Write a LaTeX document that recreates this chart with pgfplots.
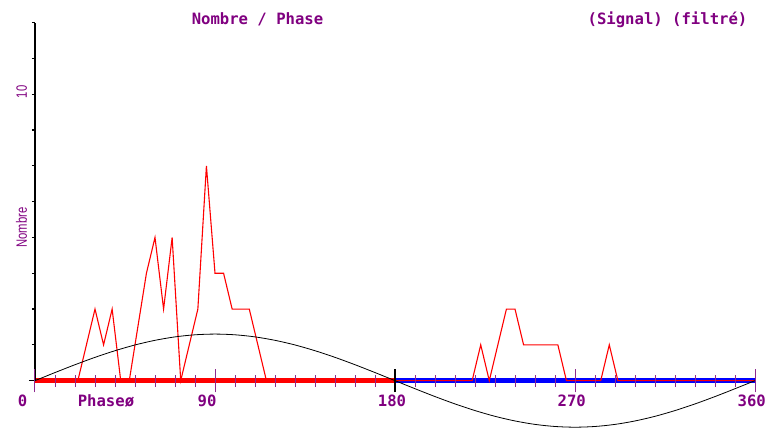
\documentclass[border=0pt]{standalone}
\usepackage{pgfplots}
\pgfplotsset{compat=1.18}
\usepackage{fontspec}
\setmainfont{Liberation Sans}
\newfontfamily\pixfont{DejaVu Sans Mono}
\newfontfamily\narrowsans{Liberation Sans}[FakeStretch=0.75]
\definecolor{lbl}{HTML}{800080}
\definecolor{tck}{HTML}{8E2A8E}
\begin{document}
\begin{tikzpicture}
\path[use as bounding box] (-35pt,-0.25pt) rectangle (733pt,430.75pt);
\begin{axis}[at={(0pt,0pt)}, anchor=south west, scale only axis,
  width=720pt, height=408.05pt, xmin=0, xmax=360, ymin=-1.75, ymax=12.5,
  axis lines=none, clip=false]
% axis lines
\draw[line width=4.5pt, red] (axis cs:0,0) -- (axis cs:180,0);
\draw[line width=4.5pt, blue] (axis cs:180,0) -- (axis cs:360,0);
\draw[black, line width=1pt] (axis cs:-3,0) -- (axis cs:0,0);
\draw[black, line width=1.6pt] (axis cs:0,0) -- (axis cs:0,12.5);
\pgfplotsinvokeforeach{1.25,2.5,3.75,5,6.25,7.5,8.75,10,11.25,12.5}{
  \draw[black, line width=1.2pt] (axis cs:-1.5,#1) -- (axis cs:0,#1);
}
% signal
\addplot[red, line width=1.1pt] coordinates {
(0,0) (21.43,0) (30,2.5) (34.29,1.25) (38.57,2.5) (42.86,0) (47.14,0)
(55.71,3.75) (60,5) (64.29,2.5) (68.57,5) (72.86,0) (81.43,2.5) (85.71,7.5)
(90,3.75) (94.29,3.75) (98.57,2.5) (107.14,2.5) (115.71,0) (218.57,0)
(222.86,1.25) (227.14,0) (235.71,2.5) (240,2.5) (244.29,1.25) (261.43,1.25)
(265.71,0) (282.86,0) (287.14,1.25) (291.43,0) (360,0)};
% sine reference
\addplot[black, line width=0.8pt, smooth] coordinates {
(0,0) (10,0.282) (20,0.556) (30,0.813) (40,1.045) (50,1.246) (60,1.408)
(70,1.528) (80,1.601) (90,1.626) (100,1.601) (110,1.528) (120,1.408)
(130,1.246) (140,1.045) (150,0.813) (160,0.556) (170,0.282) (180,0)
(190,-0.282) (200,-0.556) (210,-0.813) (220,-1.045) (230,-1.246) (240,-1.408)
(250,-1.528) (260,-1.601) (270,-1.626) (280,-1.601) (290,-1.528) (300,-1.408)
(310,-1.246) (320,-1.045) (330,-0.813) (340,-0.556) (350,-0.282) (360,0)};
% x ticks
\pgfplotsinvokeforeach{10,20,30,40,50,60,70,80,100,110,120,130,140,150,160,170,190,200,210,220,230,240,250,260,280,290,300,310,320,330,340,350}{
  \draw[tck, line width=1pt] (axis cs:#1,-0.22) -- (axis cs:#1,0.21);
}
\pgfplotsinvokeforeach{0,90,270,360}{
  \draw[tck, line width=1pt] (axis cs:#1,-0.41) -- (axis cs:#1,0.41);
}
\draw[black, line width=2pt] (axis cs:180,-0.41) -- (axis cs:180,0.41);
\end{axis}
% texts
\begin{scope}[every node/.style={text=lbl, inner sep=0pt, font=\pixfont\bfseries\fontsize{15.6}{18}\selectfont}]
\node[anchor=base] at (222.5pt,406.25pt) {Nombre / Phase};
\node[anchor=base] at (632.5pt,406.25pt) {(Signal) (filtré)};
\node[anchor=base] at (-12.5pt,24pt) {0};
\node[anchor=base] at (71pt,24pt) {Phaseø};
\node[anchor=base] at (172pt,24pt) {90};
\node[anchor=base] at (357pt,24pt) {180};
\node[anchor=base] at (536.7pt,24pt) {270};
\node[anchor=base] at (716.7pt,24pt) {360};
\end{scope}
\node[text=lbl, inner sep=0pt, anchor=base, rotate=90, font=\narrowsans\fontsize{15}{18}\selectfont] at (-8pt,203.25pt) {Nombre};
\node[text=lbl, inner sep=0pt, anchor=base, rotate=90, font=\narrowsans\fontsize{15}{18}\selectfont] at (-8pt,339pt) {10};
\end{tikzpicture}
\end{document}
